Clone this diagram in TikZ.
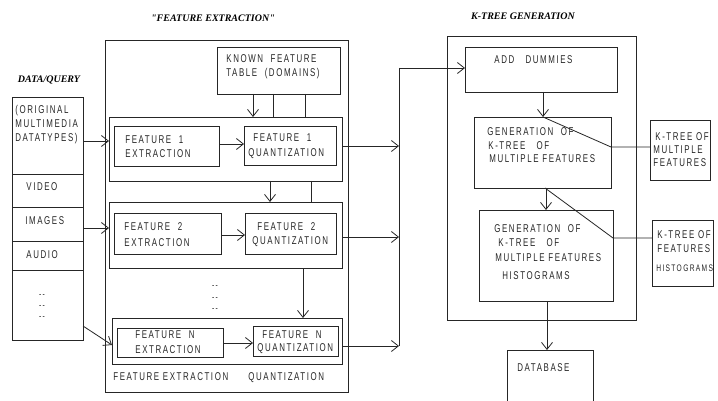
\documentclass[tikz,border=0pt]{standalone}
\usepackage{fontspec}
\setmainfont{Liberation Sans}
\newfontfamily\cadfont[FakeStretch=0.7,LetterSpace=14]{Liberation Sans}
\newfontfamily\headfont{Liberation Serif}
\usetikzlibrary{arrows.meta}

% rectangle given by its top-left and bottom-right corners
\newcommand{\boxat}[5]{%
  \node[box,minimum width={#4-#2},minimum height={#5-#3},anchor=north west] (#1) at (#2,#3) {};}

\tikzset{
  box/.style={draw,rectangle,inner sep=0pt,outer sep=0pt},
  arr/.style={-{Straight Barb[length=7pt,width=11pt]}},
  lbl/.style={anchor=west,inner sep=0pt,text height=8pt,text depth=0pt,
    font=\cadfont\fontsize{11.3}{12}\selectfont,text=black!85},
  small/.style={lbl,font=\cadfont\fontsize{9.5}{10}\selectfont},
  head/.style={inner sep=0pt,font=\headfont\bfseries\itshape\fontsize{10}{12}\selectfont},
}

\begin{document}
\begin{tikzpicture}[x=1pt,y=-1pt,line width=0.8pt,draw=black!85]
\useasboundingbox[fill=white] (0,0) rectangle (718,401);

% headings
\node[head] (hfe) at (213,18) {"FEATURE EXTRACTION"};
\node[head] (hdq) at (49,80) {DATA/QUERY};
\node[head] (hkt) at (523,16) {K-TREE GENERATION};

% data / query column
\boxat{data}{12}{97}{83}{340}
\foreach \yy in {174,207,241,270}
  \draw (data.west |- 0,\yy) -- (data.east |- 0,\yy);
\node[lbl] (d1) at (15,110) {(ORIGINAL};
\node[lbl] (d2) at (15,124) {MULTIMEDIA};
\node[lbl] (d3) at (15,138) {DATATYPES)};
\node[lbl] (dv) at (26,186) {VIDEO};
\node[lbl] (di) at (25,221) {IMAGES};
\node[lbl] (da) at (26,254) {AUDIO};
\foreach \yy/\nm in {293/da1,304/da2,315/da3}
  \node[small,anchor=center] (\nm) at (42,\yy) {-{}-};

% feature extraction block
\boxat{fe}{105}{40}{348}{392}
\boxat{kft}{217}{47}{340}{94}
\node[lbl] (k1) at (226,59) {KNOWN~~FEATURE};
\node[lbl] (k2) at (226,73) {TABLE~~(DOMAINS)};

\boxat{g1}{109}{117}{342}{181}
\boxat{f1e}{114}{126}{219}{166}
\boxat{f1q}{244}{126}{336}{165}
\node[lbl] (t1a) at (125,140) {FEATURE~~1};
\node[lbl] (t1b) at (125,154) {EXTRACTION};
\node[lbl] (t1c) at (253,138) {FEATURE~~1};
\node[lbl] (t1d) at (248,153) {QUANTIZATION};

\boxat{g2}{109}{202}{342}{268}
\boxat{f2e}{114}{213}{221}{254}
\boxat{f2q}{245}{213}{336}{254}
\node[lbl] (t2a) at (124,226) {FEATURE~~2};
\node[lbl] (t2b) at (124,242) {EXTRACTION};
\node[lbl] (t2c) at (257,226) {FEATURE~~2};
\node[lbl] (t2d) at (252,240) {QUANTIZATION};

\foreach \yy/\nm in {284/fd1,296/fd2,307/fd3}
  \node[small,anchor=center] (\nm) at (215,\yy) {-{}-};

\boxat{gn}{112}{318}{342}{364}
\boxat{fne}{117}{328}{223}{357}
\boxat{fnq}{253}{326}{338}{356}
\node[lbl] (tna) at (135,334) {FEATURE~~N};
\node[lbl] (tnb) at (135,349) {EXTRACTION};
\node[lbl] (tnc) at (262,334) {FEATURE~~N};
\node[lbl] (tnd) at (257,347) {QUANTIZATION};

\node[lbl] (bfe) at (113,376) {FEATURE EXTRACTION};
\node[lbl] (bq) at (248,376) {QUANTIZATION};

% connectors inside the extraction block
\draw[arr] (kft.south -| 253,0) -- (g1.north -| 253,0);
\draw (kft.south -| 273,0) -- (g1.north -| 273,0);
\draw (kft.south -| 305,0) -- (g1.north -| 305,0);
\draw[arr] (data.east |- 0,141) -- (g1.west |- 0,141);
\draw[arr] (f1e.east |- 0,144) -- (f1q.west |- 0,144);
\draw[arr] (g1.south -| 270,0) -- (g2.north -| 270,0);
\draw (g1.south -| 311,0) -- (g2.north -| 311,0);
\draw[arr] (data.east |- 0,228) -- (g2.west |- 0,228);
\draw[arr] (f2e.east |- 0,235) -- (f2q.west |- 0,235);
\draw[arr] (g2.south -| 303,0) -- (gn.north -| 303,0);
\draw[arr] (data.east |- 0,326) -- (gn.west |- 0,345);
\draw[arr] (fne.east |- 0,343) -- (fnq.west |- 0,343);

% collecting bus
\coordinate (bustop) at (399,68);
\coordinate (busbot) at (399,346);
\draw (bustop) -- (busbot);
\draw[arr] (g1.east |- 0,146) -- (bustop |- 0,146);
\draw[arr] (g2.east |- 0,237) -- (bustop |- 0,237);
\draw[arr] (gn.east |- 0,346) -- (busbot);

% k-tree generation block
\boxat{kt}{447}{36}{636}{320}
\boxat{add}{465}{47}{617}{92}
\node[lbl] (ta) at (494,60) {ADD~~~DUMMIES};
\boxat{gen1}{474}{117}{611}{188}
\node[lbl] (g1a) at (487,132) {GENERATION~~OF};
\node[lbl] (g1b) at (488,146) {K-TREE~~~OF};
\node[lbl] (g1c) at (489,159) {MULTIPLE FEATURES};
\boxat{gen2}{479}{210}{613}{301}
\node[lbl] (g2a) at (494,229) {GENERATION~~OF};
\node[lbl] (g2b) at (498,243) {K-TREE~~~OF};
\node[lbl] (g2c) at (495,257) {MULTIPLE FEATURES};
\node[lbl] (g2d) at (502,275) {HISTOGRAMS};

\boxat{ktm}{650}{120}{710}{180}
\node[lbl] (m1) at (655,137) {K-TREE OF};
\node[lbl] (m2) at (653,150) {MULTIPLE};
\node[lbl] (m3) at (653,163) {FEATURES};
\boxat{kth}{652}{220}{713}{286}
\node[lbl] (h1) at (657,234) {K-TREE OF};
\node[lbl] (h2) at (657,248) {FEATURES};
\node[small] (h3) at (656,267) {HISTOGRAMS};

\boxat{db}{507}{350}{593}{412}
\node[lbl] (dbt) at (517,367) {DATABASE};

% connectors of the k-tree block
\draw[arr] (bustop) -- (add.west |- bustop);
\draw[arr] (add.south -| 543,0) -- (gen1.north -| 543,0);
\draw[arr] (gen1.south -| 546,0) -- (gen2.north -| 546,0);
\draw[arr] (gen2.south -| 547,0) -- (db.north -| 547,0);
\draw (gen1.north -| 543,0) -- (gen1.east |- 0,147) -- (ktm.west |- 0,147);
\draw (gen1.south -| 545,0) -- (gen2.east |- 0,238) -- (kth.west |- 0,238);
\end{tikzpicture}
\end{document}
